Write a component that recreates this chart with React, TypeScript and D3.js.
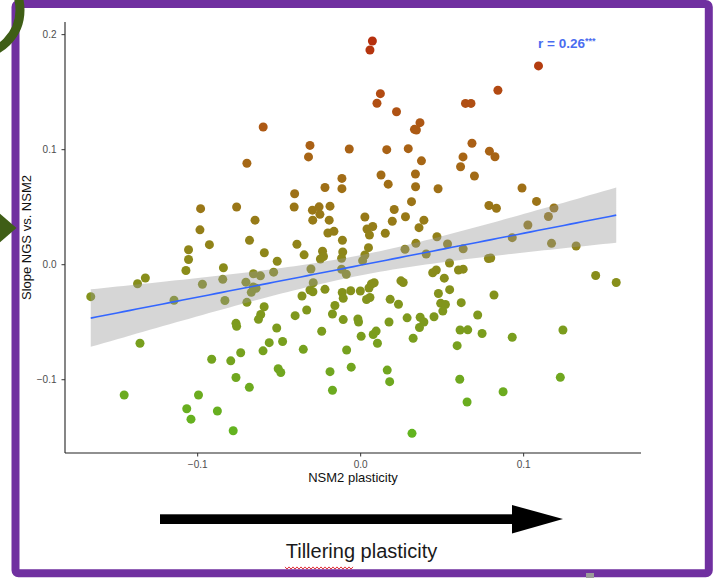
import React from "react";
import * as d3 from "d3";

// ---- data ----
const nsm2Plasticity = [
  0.0072, 0.0057, 0.1091, 0.0842, 0.0121, 0.0100, 0.0643, 0.0677, 0.0220, 0.0364,
  0.0330, 0.0342, -0.0598, -0.0311, -0.0320, -0.0070, 0.0160, 0.0292, 0.0683, 0.0373,
  0.0628, 0.0613, 0.0790, 0.0824, -0.0698, -0.0115, -0.0115, -0.0219, 0.0125, 0.0169,
  0.0336, 0.0337, 0.0475, 0.0698, 0.0990, -0.0405, -0.0408, -0.0296, -0.0255, -0.0250,
  -0.0188, -0.0294, -0.0193, -0.0761, -0.0982, -0.0648, -0.0986, -0.0201, -0.0164, 0.0312,
  0.1079, 0.0206, 0.0787, 0.0833, 0.1186, 0.1152, 0.0026, 0.0275, 0.0194, 0.0388,
  0.0358, 0.0074, 0.0039, 0.0054, 0.0151, 0.0468, 0.1026, -0.0682, -0.0112, -0.0928,
  -0.0391, -0.1056, -0.0591, -0.0234, -0.0110, -0.0347, -0.1056, -0.0512, -0.0228, -0.0247,
  -0.0117, 0.0048, 0.0026, 0.0012, 0.0272, 0.0339, 0.0402, 0.0533, 0.0629, 0.0930,
  0.1171, 0.1322, 0.0784, 0.0798, 0.0545, -0.1072, -0.0842, -0.0305, -0.0117, -0.0088,
  0.0442, 0.0464, 0.0600, 0.0629, -0.0658, -0.0615, -0.0534, -0.1321, -0.1369, -0.0846,
  -0.0971, -0.0704, -0.0659, -0.0642, -0.0671, -0.0291, -0.0311, -0.0293, -0.0219, -0.0113,
  -0.0107, -0.0061, -0.0002, 0.0051, 0.0066, 0.0083, 0.0247, 0.0261, 0.0513, 0.1442,
  0.1568, 0.0546, 0.0477, 0.0818, -0.1656, -0.1145, -0.0833, -0.0698, -0.0360, 0.0036,
  0.0057, 0.0181, 0.0232, 0.0491, 0.0520, 0.0504, 0.0617, -0.0592, -0.0613, -0.0627,
  -0.0402, -0.0331, -0.0158, -0.0173, -0.0107, -0.0017, -0.0013, 0.0174, 0.0285, 0.0365,
  0.0388, 0.0361, 0.0450, 0.0718, -0.0765, -0.0761, -0.0515, -0.0239, 0.0003, 0.0077,
  0.0095, 0.0103, 0.0322, 0.0610, 0.0657, 0.0745, 0.0930, 0.1241, 0.0592, -0.1354,
  -0.0561, -0.0479, -0.0599, -0.0352, -0.0736, -0.0086, -0.0914, -0.0797, -0.0506, -0.0490,
  -0.0188, -0.0058, 0.0163, -0.0765, 0.0178, 0.0608, 0.1225, -0.0683, -0.0173, 0.0874,
  -0.1451, -0.0995, 0.0653, -0.1067, -0.1041, -0.0879, -0.0782, 0.0315,
];

const slopeNgsVsNsm2 = [
  0.1945, 0.1867, 0.1728, 0.1517, 0.1487, 0.1404, 0.1402, 0.1402, 0.1330, 0.1235,
  0.1177, 0.1171, 0.1197, 0.1037, 0.0937, 0.1006, 0.1000, 0.1009, 0.1056, 0.0903,
  0.0937, 0.0852, 0.0987, 0.0939, 0.0882, 0.0750, 0.0661, 0.0671, 0.0780, 0.0700,
  0.0789, 0.0678, 0.0660, 0.0771, 0.0667, 0.0617, 0.0502, 0.0474, 0.0503, 0.0438,
  0.0509, 0.0387, 0.0387, 0.0502, 0.0487, 0.0387, 0.0303, 0.0276, 0.0290, 0.0548,
  0.0550, 0.0480, 0.0515, 0.0491, 0.0493, 0.0419, 0.0415, 0.0417, 0.0378, 0.0387,
  0.0322, 0.0332, 0.0310, 0.0258, 0.0273, 0.0243, 0.0345, 0.0212, 0.0213, 0.0174,
  0.0178, 0.0130, 0.0104, 0.0117, 0.0110, 0.0086, 0.0045, 0.0030, 0.0071, 0.0050,
  0.0056, 0.0148, 0.0084, 0.0035, 0.0134, 0.0186, 0.0093, 0.0180, 0.0138, 0.0235,
  0.0186, 0.0163, 0.0054, 0.0058, 0.0015, -0.0050, -0.0026, -0.0037, -0.0040, -0.0083,
  -0.0070, -0.0046, -0.0046, -0.0039, -0.0079, -0.0097, -0.0065, -0.0116, -0.0166, -0.0127,
  -0.0170, -0.0152, -0.0194, -0.0205, -0.0240, -0.0157, -0.0220, -0.0235, -0.0214, -0.0242,
  -0.0292, -0.0226, -0.0229, -0.0203, -0.0168, -0.0157, -0.0140, -0.0155, -0.0117, -0.0094,
  -0.0155, -0.0217, -0.0250, -0.0263, -0.0278, -0.0309, -0.0311, -0.0327, -0.0272, -0.0303,
  -0.0285, -0.0301, -0.0344, -0.0336, -0.0346, -0.0403, -0.0330, -0.0366, -0.0433, -0.0475,
  -0.0443, -0.0394, -0.0355, -0.0429, -0.0477, -0.0472, -0.0498, -0.0498, -0.0462, -0.0457,
  -0.0498, -0.0546, -0.0452, -0.0437, -0.0510, -0.0536, -0.0550, -0.0579, -0.0622, -0.0607,
  -0.0577, -0.0683, -0.0639, -0.0568, -0.0566, -0.0598, -0.0631, -0.0568, -0.0704, -0.0683,
  -0.0678, -0.0668, -0.0749, -0.0736, -0.0765, -0.0742, -0.0822, -0.0836, -0.0905, -0.0937,
  -0.0930, -0.0891, -0.0916, -0.0981, -0.1017, -0.0996, -0.0979, -0.1066, -0.1091, -0.1105,
  -0.1133, -0.1133, -0.1194, -0.1252, -0.1343, -0.1272, -0.1444, -0.1466,
];

const xTicks = [-0.1, 0, 0.1];
const yTicks = [-0.1, 0, 0.1, 0.2];
const annotationText = "r = 0.26";
const annotationStars = "***";
const xTitle = "NSM2 plasticity";
const yTitle = "Slope NGS vs. NSM2";
const arrowLabel = "Tillering plasticity";

// ---- styling / layout ----
const W = 718;
const H = 578;
const FONT = "'Liberation Sans', Arial, Helvetica, sans-serif";
const PURPLE = "#7030a0";
const DARKGREEN = "#3f5e16";

const colorStops = [-0.147, -0.1, -0.05, 0, 0.05, 0.1, 0.15, 0.195];
const colorRange = ["#62b41f", "#6fa81f", "#7d9a1d", "#8b8a1a", "#9a7617", "#a96215", "#b24a12", "#b6300d"];

const fmt = (v: number) => (v < -1e-9 ? "\u2212" : "") + Math.abs(v).toFixed(1);

export default function App() {
  const x = d3.scaleLinear().domain([-0.1814, 0.172]).range([65, 641]);
  const y = d3.scaleLinear().domain([-0.1637, 0.211]).range([453, 22]);
  const color = d3
    .scaleLinear<string>()
    .domain(colorStops)
    .range(colorRange)
    .interpolate(d3.interpolateRgb)
    .clamp(true);

  const pts = nsm2Plasticity.map((v, i) => ({ x: v, y: slopeNgsVsNsm2[i] }));

  // linear model with 95% confidence band (as geom_smooth(method = "lm"))
  const n = pts.length;
  const mx = d3.mean(pts, (d) => d.x) as number;
  const my = d3.mean(pts, (d) => d.y) as number;
  const sxx = d3.sum(pts, (d) => (d.x - mx) ** 2);
  const sxy = d3.sum(pts, (d) => (d.x - mx) * (d.y - my));
  const b = sxy / sxx;
  const a = my - b * mx;
  const sse = d3.sum(pts, (d) => (d.y - (a + b * d.x)) ** 2);
  const s = Math.sqrt(sse / (n - 2));
  const tq = 1.9713;
  const [xmin, xmax] = d3.extent(pts, (d) => d.x) as [number, number];
  const grid = d3.range(81).map((i) => {
    const xv = xmin + ((xmax - xmin) * i) / 80;
    const fit = a + b * xv;
    const se = s * Math.sqrt(1 / n + (xv - mx) ** 2 / sxx);
    return { x: xv, fit, lo: fit - tq * se, hi: fit + tq * se };
  });
  const band = d3
    .area<any>()
    .x((d) => x(d.x))
    .y0((d) => y(d.lo))
    .y1((d) => y(d.hi))(grid) as string;
  const fitLine = d3
    .line<any>()
    .x((d) => x(d.x))
    .y((d) => y(d.fit))(grid) as string;

  // red spell-check squiggle under "Tillering"
  const sq: [number, number][] = d3.range(0, 35).map((i) => [285 + i * 2, 568 + (i % 2 === 0 ? -1.1 : 1.1)]);
  const squiggle = d3.line()(sq) as string;

  const [x0, x1] = x.range();
  const [y0, y1] = y.range();

  return (
    <svg
      width={W}
      height={H}
      viewBox={`0 0 ${W} ${H}`}
      style={{ position: "absolute", left: 0, top: 0, background: "#fff" }}
      fontFamily={FONT}
    >
      <rect x={0} y={0} width={W} height={H} fill="#fff" />

      {/* points */}
      <g>
        {pts.map((d, i) => (
          <circle key={i} cx={x(d.x)} cy={y(d.y)} r={4.5} fill={color(d.y)} />
        ))}
      </g>

      {/* confidence band and fit */}
      <path d={band} fill="#999999" fillOpacity={0.4} />
      <path d={fitLine} fill="none" stroke="#3366ff" strokeWidth={1.6} />

      {/* axes */}
      <line x1={x0} x2={x1} y1={y0} y2={y0} stroke="#222" strokeWidth={1.1} />
      <line x1={x0} x2={x0} y1={y0} y2={y1} stroke="#222" strokeWidth={1.1} />
      {xTicks.map((t) => (
        <g key={"xt" + t}>
          <line x1={x(t)} x2={x(t)} y1={y0} y2={y0 + 3.5} stroke="#333" strokeWidth={1} />
          <text x={x(t)} y={467.5} textAnchor="middle" fontSize={10} fill="#4d4d4d">
            {fmt(t)}
          </text>
        </g>
      ))}
      {yTicks.map((t) => (
        <g key={"yt" + t}>
          <line x1={x0 - 3.5} x2={x0} y1={y(t)} y2={y(t)} stroke="#333" strokeWidth={1} />
          <text x={56.5} y={y(t) + 3.5} textAnchor="end" fontSize={10} fill="#4d4d4d">
            {fmt(t)}
          </text>
        </g>
      ))}
      <text x={(x0 + x1) / 2} y={482} textAnchor="middle" fontSize={13} fill="#111">
        {xTitle}
      </text>
      <text
        transform={`translate(31,${(y0 + y1) / 2}) rotate(-90)`}
        textAnchor="middle"
        fontSize={13}
        fill="#111"
      >
        {yTitle}
      </text>

      {/* correlation annotation */}
      <text x={538} y={48} fontSize={13.5} fontWeight="bold" fill="#4a6cf0">
        {annotationText}
        <tspan fontSize={9} dy={-4}>
          {annotationStars}
        </tspan>
      </text>

      {/* big arrow */}
      <rect x={160} y={514.3} width={354} height={9.7} fill="#000" />
      <polygon points="512,505 563,519 512,533.5" fill="#000" />
      <text x={361.5} y={558} textAnchor="middle" fontSize={20} fill="#1a1a1a">
        {arrowLabel}
      </text>
      <path d={squiggle} fill="none" stroke="#e0303a" strokeWidth={1} />

      {/* slide frame and decorations */}
      <rect x={15.5} y={4} width={693.3} height={569.3} rx={3} fill="none" stroke={PURPLE} strokeWidth={8} />
      <rect x={586} y={573} width={8} height={5} fill="#9a9a9a" />
      <circle cx={-25} cy={10} r={45} fill="none" stroke={DARKGREEN} strokeWidth={9} />
      <polygon points="-2,212 16.5,228 -2,244" fill={DARKGREEN} />
    </svg>
  );
}
